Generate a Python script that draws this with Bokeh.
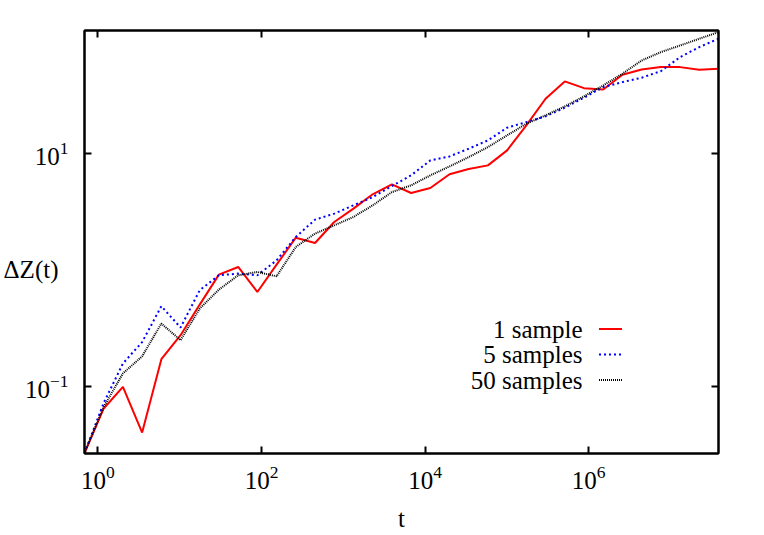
import math
from bokeh.plotting import figure
from bokeh.models import LogAxis, FixedTicker, Label, Range1d, CustomJSTickFormatter
from bokeh.embed import file_html
from bokeh.resources import INLINE

# ---- data ----
t = [0.684, 1.175, 2.018, 3.467, 5.957, 10.23, 17.55, 30.1, 51.8, 88.9,
     152.8, 262.4, 450.8, 774.5, 1330, 2286, 3926, 6745, 11590, 19910,
     34140, 58650, 100700, 173000, 297200, 510500, 877000, 1.507e6, 2.588e6,
     4.446e6, 7.638e6, 1.312e7, 2.254e7, 3.873e7]

dz_1 = [0.0266, 0.0644, 0.0989, 0.0400, 0.171, 0.275, 0.504, 0.912, 1.062, 0.647,
        1.112, 1.897, 1.706, 2.588, 3.373, 4.477, 5.458, 4.592, 5.070, 6.653,
        7.379, 7.943, 10.69, 17.54, 29.72, 41.88, 36.64, 35.73, 47.75, 53.09,
        55.59, 55.59, 52.72, 53.83]

dz_5 = [0.0266, 0.0719, 0.157, 0.240, 0.488, 0.320, 0.670, 0.900, 0.931, 0.900,
        1.211, 1.923, 2.710, 3.055, 3.597, 4.236, 5.272, 6.516, 8.770, 9.484,
        11.04, 13.03, 16.75, 18.71, 20.94, 24.89, 30.34, 37.41, 41.30, 45.08,
        51.29, 67.76, 82.60, 97.50]

dz_50 = [0.0266, 0.0665, 0.129, 0.181, 0.346, 0.249, 0.466, 0.678, 0.900, 0.962,
         0.883, 1.578, 2.056, 2.421, 2.858, 3.597, 4.677, 5.346, 6.516, 7.780,
         9.354, 11.40, 14.39, 18.11, 21.38, 25.53, 31.12, 38.64, 48.75, 63.39,
         74.82, 85.31, 97.50, 111.2]

series_labels = ["1 sample", "5 samples", "50 samples"]
x_ticks = [1, 100, 1e4, 1e6]
y_ticks = [0.1, 10]
x_label = "t"
y_label = "\u0394Z(t)"
y_label_at = [1]

Y_LO, Y_HI = 0.0264, 114.8

# ---- layout ----
W, H = 762, 535
BL, BR, BT, BB = 84, 44, 30, 82
FW, FH = W - BL - BR, H - BT - BB
FONT = "Liberation Serif"
FS = "25px"

p = figure(width=W, height=H, x_axis_type="log", y_axis_type="log",
           x_range=Range1d(t[0], t[-1]), y_range=Range1d(Y_LO, Y_HI),
           output_backend="svg", toolbar_location=None,
           min_border_left=BL, min_border_right=BR,
           min_border_top=BT, min_border_bottom=BB)
p.grid.visible = False
p.outline_line_color = "black"
p.outline_line_width = 2
p.background_fill_color = "white"
p.border_fill_color = "white"


def style_axis(ax, ticks, labels=True, standoff=10):
    ax.ticker = FixedTicker(ticks=ticks, minor_ticks=[])
    ax.major_tick_in = 7
    ax.major_tick_out = 0
    ax.minor_tick_in = 0
    ax.minor_tick_out = 0
    ax.major_tick_line_width = 2
    ax.major_tick_line_color = "black"
    ax.axis_line_width = 2
    ax.axis_line_color = "black"
    ax.major_label_text_font = FONT
    ax.major_label_text_color = "black"
    ax.major_label_standoff = standoff
    if labels:
        ax.major_label_text_font_size = FS
    else:
        ax.formatter = CustomJSTickFormatter(code="return ''")
        ax.major_label_text_font_size = "1px"
        ax.major_label_standoff = 0


xa = p.xaxis[0]
ya = p.yaxis[0]
style_axis(xa, x_ticks, True, 12)
style_axis(ya, y_ticks, True, 16)

xa.axis_label = x_label
xa.axis_label_text_font = FONT
xa.axis_label_text_font_size = FS
xa.axis_label_text_font_style = "normal"
xa.axis_label_text_color = "black"
xa.axis_label_standoff = 13

# y title drawn gnuplot-style: horizontal, level with y = 1, via an outer axis
ytitle_ax = LogAxis(ticker=FixedTicker(ticks=y_label_at, minor_ticks=[]),
                    formatter=CustomJSTickFormatter(code="return '%s'" % y_label),
                    major_tick_in=0, major_tick_out=0,
                    minor_tick_in=0, minor_tick_out=0,
                    axis_line_color=None,
                    major_label_text_font=FONT, major_label_text_font_size=FS,
                    major_label_text_color="black",
                    major_label_standoff=-37)
p.add_layout(ytitle_ax, "left")

top_ax = LogAxis()
style_axis(top_ax, x_ticks, False)
p.add_layout(top_ax, "above")
right_ax = LogAxis()
style_axis(right_ax, y_ticks, False)
p.add_layout(right_ax, "right")

# ---- data lines ----
series = [dz_1, dz_5, dz_50]
colors = ["#ff0000", "#0000ff", "#000000"]
dashes = ["solid", "2 3", "1 1"]
for ys, c, d in zip(series, colors, dashes):
    p.line(t, ys, line_color=c, line_width=2, line_dash=d)

# ---- key (text right, sample to its right) ----
lx0, lx1 = math.log10(t[0]), math.log10(t[-1])
ly0, ly1 = math.log10(Y_LO), math.log10(Y_HI)


def sx2x(sx):
    return 10 ** (lx0 + sx / FW * (lx1 - lx0))


def sy2y(sy):
    return 10 ** (ly0 + sy / FH * (ly1 - ly0))


key_sy = [124.5, 99, 73.5]
for lab, c, d, sy in zip(series_labels, colors, dashes, key_sy):
    p.add_layout(Label(x=498, y=sy, x_units="screen", y_units="screen",
                       text=lab, text_font=FONT, text_font_size=FS,
                       text_color="black",
                       text_align="right", text_baseline="middle"))
    p.line([sx2x(514.5), sx2x(537.5)], [sy2y(sy), sy2y(sy)],
           line_color=c, line_width=2, line_dash=d)

open("out.html", "w").write(file_html(p, INLINE))
